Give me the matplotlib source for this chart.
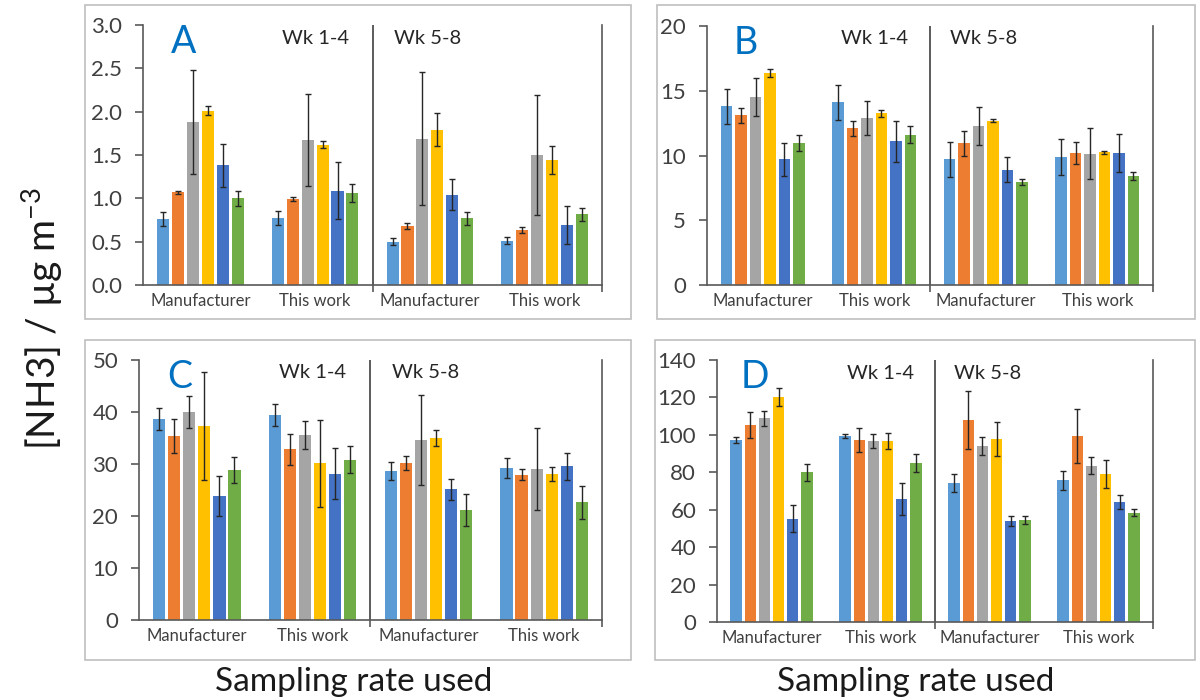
import matplotlib
matplotlib.use("Agg")
import matplotlib.pyplot as plt
from matplotlib.patches import Rectangle
import numpy as np

plt.rcParams['font.family'] = ['Lato', 'DejaVu Sans']
plt.rcParams['mathtext.fontset'] = 'custom'
plt.rcParams['mathtext.rm'] = 'Lato'
plt.rcParams['mathtext.it'] = 'Lato:italic'

categories = ["Manufacturer", "This work", "Manufacturer", "This work"]
colors = ["#5B9BD5", "#ED7D31", "#A5A5A5", "#FFC000", "#4472C4", "#70AD47"]

# values[group][series]
A_vals = [[0.76, 1.07, 1.88, 2.01, 1.38, 1.00],
          [0.77, 0.99, 1.67, 1.62, 1.09, 1.06],
          [0.50, 0.68, 1.69, 1.79, 1.04, 0.77],
          [0.51, 0.635, 1.50, 1.44, 0.69, 0.815]]
A_err = [[0.08, 0.02, 0.60, 0.05, 0.25, 0.09],
         [0.08, 0.02, 0.53, 0.04, 0.33, 0.10],
         [0.04, 0.03, 0.77, 0.19, 0.18, 0.075],
         [0.04, 0.03, 0.69, 0.16, 0.22, 0.075]]

B_vals = [[13.8, 13.1, 14.5, 16.4, 9.7, 10.95],
          [14.1, 12.1, 12.9, 13.25, 11.1, 11.6],
          [9.7, 10.95, 12.3, 12.7, 8.9, 7.95],
          [9.9, 10.2, 10.15, 10.25, 10.2, 8.4]]
B_err = [[1.35, 0.6, 1.45, 0.3, 1.3, 0.6],
         [1.35, 0.56, 1.28, 0.25, 1.6, 0.64],
         [1.33, 0.97, 1.46, 0.1, 0.95, 0.26],
         [1.4, 0.87, 2.0, 0.1, 1.49, 0.3]]

C_vals = [[38.6, 35.4, 40.0, 37.3, 23.85, 28.9],
          [39.5, 32.8, 35.6, 30.1, 28.1, 30.8],
          [28.6, 30.2, 34.6, 35.0, 25.1, 21.2],
          [29.2, 27.95, 29.0, 28.1, 29.6, 22.6]]
C_err = [[2.1, 3.3, 3.1, 10.4, 3.85, 2.5],
         [2.1, 3.0, 2.7, 8.4, 4.9, 2.6],
         [1.7, 1.3, 8.7, 1.5, 2.0, 3.1],
         [1.86, 1.1, 7.9, 1.35, 2.6, 3.2]]

D_vals = [[97.3, 105.3, 108.9, 120.3, 55.2, 79.9],
          [99.5, 97.2, 96.8, 96.8, 65.7, 85.1],
          [74.2, 108.0, 94.1, 97.9, 54.1, 54.6],
          [75.8, 99.6, 83.6, 79.0, 64.2, 58.4]]
D_err = [[1.4, 6.8, 4.1, 4.8, 7.3, 4.4],
         [1.2, 6.2, 3.6, 4.1, 8.7, 4.8],
         [4.8, 15.7, 5.0, 9.1, 2.8, 2.2],
         [5.0, 14.4, 4.6, 7.3, 3.9, 1.9]]

panels = [
    ("A", A_vals, A_err, 3.0, 0.5, "{:.1f}", [143, 602, 25, 285]),
    ("B", B_vals, B_err, 20, 5, "{:.0f}", [707, 1153, 26, 285]),
    ("C", C_vals, C_err, 50, 10, "{:.0f}", [139, 602, 360, 620]),
    ("D", D_vals, D_err, 140, 20, "{:.0f}", [717, 1153, 360, 622]),
]

W, H = 1200, 700
fig = plt.figure(figsize=(12, 7), dpi=100)

# panel frames
frames = [(85, 5, 631, 319), (657, 5, 1195, 319), (85, 340, 631, 660), (655, 340, 1195, 660)]
for (x0, y0, x1, y1) in frames:
    fig.patches.append(Rectangle((x0 / W, 1 - y1 / H), (x1 - x0) / W, (y1 - y0) / H,
                                 transform=fig.transFigure, fill=False,
                                 edgecolor="#BFBFBF", linewidth=1.2))

axc = "#595959"
txtc = "#404040"
step = 0.13
bw = 0.105
for letter, vals, errs, ymax, ystep, fmt, (l, r, t, b) in panels:
    ax = fig.add_axes([l / W, 1 - b / H, (r - l) / W, (b - t) / H])
    vals = np.array(vals)
    errs = np.array(errs)
    x = np.arange(len(categories))
    for i in range(6):
        xs = x + (i - 2.5) * step
        ax.bar(xs, vals[:, i], width=bw, color=colors[i], edgecolor="none", zorder=2)
        ax.errorbar(xs, vals[:, i], yerr=errs[:, i], fmt="none", ecolor="#262626",
                    elinewidth=1.0, capsize=2.2, capthick=1.0, zorder=3)
    ax.set_xlim(-0.5, 3.5)
    ax.set_ylim(0, ymax)
    yt = np.arange(0, ymax + ystep / 2, ystep)
    ax.set_yticks(yt)
    ax.set_yticklabels([fmt.format(v) for v in yt])
    ax.set_xticks(x)
    ax.set_xticklabels(categories)
    ax.set_xticks([1.5, 3.5], minor=True)
    ax.tick_params(axis="x", which="major", length=0, pad=6, labelsize=12, labelcolor=txtc)
    ax.tick_params(axis="x", which="minor", length=5, direction="out", color=axc, width=1.2)
    ax.tick_params(axis="y", length=6, direction="out", color=axc, width=1.2,
                   labelsize=16, labelcolor=txtc, pad=9)
    ax.spines["top"].set_visible(False)
    for s in ["left", "bottom", "right"]:
        ax.spines[s].set_color(axc)
        ax.spines[s].set_linewidth(1.2)
    ax.axvline(1.5, color="#404040", linewidth=1.2, zorder=1)
    ax.patch.set_alpha(0)
    ax.text(-0.15, 0.935, letter, transform=ax.get_xaxis_transform(), fontsize=27,
            color="#0070C0", ha="center", va="center")
    ax.text(1.0, 0.95, "Wk 1-4", transform=ax.get_xaxis_transform(), fontsize=14.5,
            color="#262626", ha="center", va="center")
    ax.text(1.98, 0.95, "Wk 5-8", transform=ax.get_xaxis_transform(), fontsize=14.5,
            color="#262626", ha="center", va="center")

fig.text(42 / W, 1 - 318 / H, r"[NH3] / µg m$^{-3}$", rotation=90, fontsize=28,
         ha="center", va="center", color="#1a1a1a")
fig.text(354 / W, 1 - 682 / H, "Sampling rate used", fontsize=24, ha="center",
         va="center", color="#1a1a1a")
fig.text(916 / W, 1 - 682 / H, "Sampling rate used", fontsize=24, ha="center",
         va="center", color="#1a1a1a")

fig.savefig("out.png", dpi=100)
